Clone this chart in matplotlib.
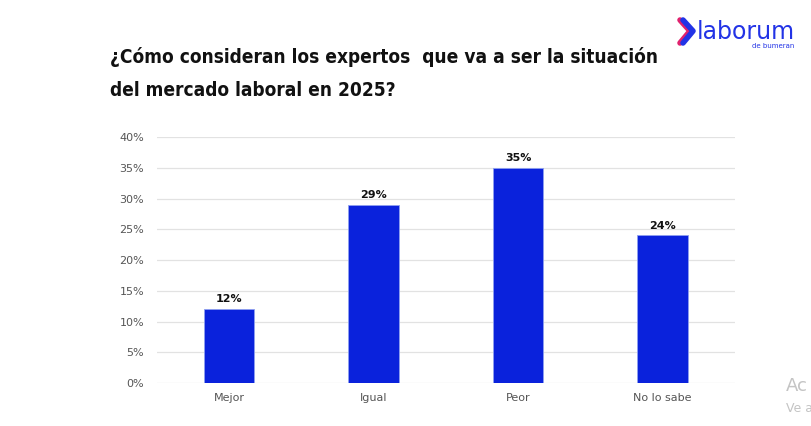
import matplotlib.pyplot as plt
from matplotlib.ticker import PercentFormatter

# -----------------------------
# Data
# -----------------------------
categories = ["Mejor", "Igual", "Peor", "No lo sabe"]
values = [12, 29, 35, 24]
yticks = [0, 5, 10, 15, 20, 25, 30, 35, 40]

bar_color = "#0a22dc"

fig = plt.figure(figsize=(8.12, 4.26), dpi=100)
ax = fig.add_axes([0.193, 0.101, 0.712, 0.577])

bars = ax.bar(categories, values, width=0.35, color=bar_color,
              edgecolor="#8fa0f0", linewidth=0.6, zorder=3)
for b, v in zip(bars, values):
    ax.text(b.get_x() + b.get_width() / 2, v + 0.8, f"{v}%",
            ha="center", va="bottom", fontsize=8, fontweight="bold",
            color="#111111")

ax.set_xlim(-0.5, 3.5)
ax.set_ylim(0, 40)
ax.set_yticks(yticks)
ax.yaxis.set_major_formatter(PercentFormatter(decimals=0))
ax.grid(axis="y", color="#e2e2e2", linewidth=0.9, zorder=0)
ax.tick_params(axis="both", length=0, labelsize=8, labelcolor="#555555")
ax.tick_params(axis="x", pad=7)
ax.tick_params(axis="y", pad=9)
for s in ax.spines.values():
    s.set_visible(False)

# -----------------------------
# Title
# -----------------------------
title_kw = dict(fontsize=13.7, fontweight="bold", family="DejaVu Sans",
                fontstretch="condensed", color="#111111",
                va="center", ha="left")
fig.text(110 / 812, 1 - 57 / 426,
         "¿Cómo consideran los expertos  que va a ser la situación",
         **title_kw)
fig.text(110 / 812, 1 - 90 / 426, "del mercado laboral en 2025?",
         **title_kw)

# -----------------------------
# Logo
# -----------------------------
fig.lines.append(plt.Line2D([680 / 812, 690 / 812, 680 / 812],
                            [1 - 20 / 426, 1 - 31 / 426, 1 - 43 / 426],
                            transform=fig.transFigure, color="#e0226e",
                            linewidth=4, solid_capstyle="round"))
fig.lines.append(plt.Line2D([683 / 812, 693 / 812, 683 / 812],
                            [1 - 20 / 426, 1 - 31 / 426, 1 - 43 / 426],
                            transform=fig.transFigure, color="#2233e6",
                            linewidth=4, solid_capstyle="round"))
fig.text(697 / 812, 1 - 32 / 426, "laborum", fontsize=17,
         color="#2233e6", va="center", ha="left", family="DejaVu Sans")
fig.text(794 / 812, 1 - 46 / 426, "de bumeran", fontsize=5,
         color="#2233e6", va="center", ha="right")

# Watermark fragments at right edge
fig.text(786 / 812, 1 - 386 / 426, "Ac", fontsize=13, color="#c4c4c4",
         va="center", ha="left")
fig.text(786 / 812, 1 - 409 / 426, "Ve a", fontsize=9, color="#c4c4c4",
         va="center", ha="left")

fig.savefig("out.png", dpi=100)
